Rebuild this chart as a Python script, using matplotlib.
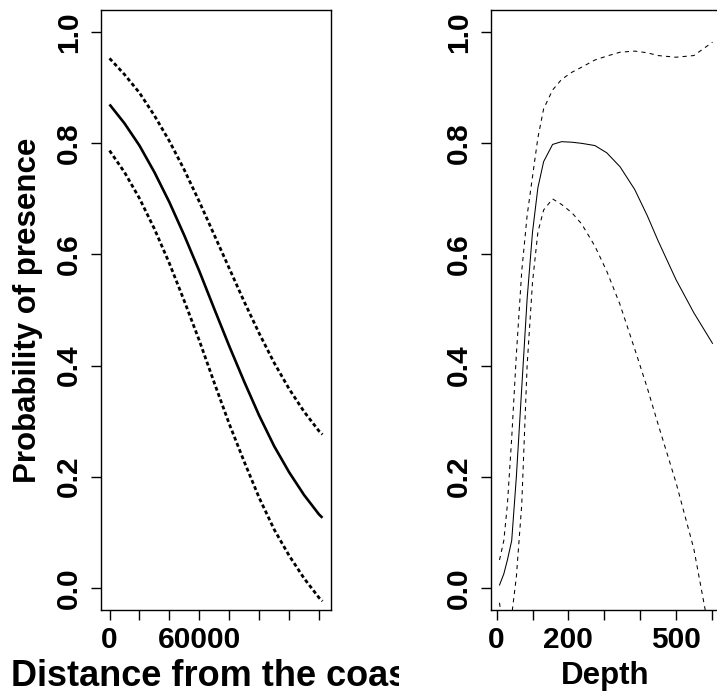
import matplotlib
matplotlib.use("Agg")
import matplotlib.pyplot as plt
from matplotlib.patches import Rectangle

# --- data ---
dist = [0, 10000, 20000, 30000, 40000, 50000, 60000, 70000, 80000, 90000,
        100000, 110000, 120000, 130000, 140000, 142300]
dist_fit = [0.870, 0.836, 0.796, 0.748, 0.694, 0.634, 0.570, 0.502, 0.435,
            0.371, 0.310, 0.255, 0.208, 0.167, 0.132, 0.126]
dist_upper = [0.953, 0.924, 0.891, 0.850, 0.804, 0.752, 0.695, 0.635, 0.575,
              0.515, 0.458, 0.405, 0.358, 0.317, 0.282, 0.276]
dist_lower = [0.787, 0.748, 0.701, 0.646, 0.584, 0.516, 0.445, 0.369, 0.295,
              0.227, 0.162, 0.105, 0.058, 0.017, -0.018, -0.024]

depth = [8, 20, 30, 42, 55, 70, 85, 100, 115, 131, 156, 181, 210, 237, 274,
         307, 344, 385, 420, 450, 500, 550, 602]
depth_fit = [0.005, 0.025, 0.05, 0.085, 0.20, 0.36, 0.52, 0.64, 0.72, 0.767,
             0.798, 0.803, 0.802, 0.800, 0.796, 0.783, 0.758, 0.717, 0.67,
             0.625, 0.555, 0.495, 0.44]
depth_upper = [0.05, 0.085, 0.15, 0.27, 0.42, 0.57, 0.67, 0.74, 0.81, 0.862,
               0.896, 0.915, 0.928, 0.937, 0.95, 0.957, 0.964, 0.966, 0.963,
               0.958, 0.955, 0.958, 0.982]
depth_lower = [-0.027, -0.09, -0.10, -0.05, 0.02, 0.15, 0.40, 0.55, 0.64,
               0.68, 0.70, 0.69, 0.675, 0.655, 0.615, 0.57, 0.51, 0.43, 0.36,
               0.295, 0.19, 0.07, -0.11]

y_ticks = [0.0, 0.2, 0.4, 0.6, 0.8, 1.0]
y_labels = ["0.0", "0.2", "0.4", "0.6", "0.8", "1.0"]
dist_ticks = [0, 20000, 40000, 60000, 80000, 100000, 120000, 140000]
dist_labels = ["0", "", "", "60000", "", "", "", ""]
depth_ticks = [0, 100, 200, 300, 400, 500, 600]
depth_labels = ["0", "", "200", "", "", "500", ""]

W, H = 717, 697
FS = 21.5
FS_LAB = 22.5
plt.rcParams["font.family"] = ["Liberation Sans", "DejaVu Sans"]
plt.rcParams["font.weight"] = "bold"

fig = plt.figure(figsize=(W / 100, H / 100), dpi=100)


def px_axes(x0, x1, y_top, y_bot):
    return fig.add_axes([x0 / W, (H - y_bot) / H, (x1 - x0) / W, (y_bot - y_top) / H])


def style(ax, xticks, xlabels):
    for s in ax.spines.values():
        s.set_linewidth(1.0)
    ax.set_ylim(-0.04, 1.04)
    ax.set_yticks(y_ticks)
    ax.set_yticklabels(y_labels, rotation=90, va="center")
    ax.set_xticks(xticks)
    ax.set_xticklabels(xlabels)
    ax.tick_params(direction="out", length=7.2, width=1.0, labelsize=FS)
    ax.tick_params(axis="x", pad=4)
    ax.tick_params(axis="y", pad=6)


ax1 = px_axes(101, 331, 10, 610)
ax1.plot(dist, dist_fit, color="black", lw=1.9, solid_capstyle="butt")
for band in (dist_upper, dist_lower):
    ax1.plot(dist, band, color="black", lw=2.0, linestyle=(0, (1.4, 1.0)),
             dash_capstyle="butt")
span = dist[-1] - dist[0]
ax1.set_xlim(dist[0] - 0.04 * span, dist[-1] + 0.04 * span)
style(ax1, dist_ticks, dist_labels)
fig.text(28 / W, (H - 310) / H, "Probability of presence", fontsize=FS_LAB,
         fontweight="bold", rotation=90, ha="center", va="center")

ax2 = px_axes(491, 721, 10, 610)
ax2.plot(depth, depth_fit, color="black", lw=0.75)
for band in (depth_upper, depth_lower):
    ax2.plot(depth, band, color="black", lw=0.75, linestyle=(0, (4, 4)))
span = depth[-1] - depth[0]
ax2.set_xlim(depth[0] - 0.04 * span, depth[-1] + 0.04 * span)
style(ax2, depth_ticks, depth_labels)

# x labels; the left one is cut at its figure region as in the R output
fig.text(216 / W, (H - 676) / H, "Distance from the coast", fontsize=26,
         ha="center", va="center", zorder=1)
fig.add_artist(Rectangle((399 / W, 0), 80 / W, 55 / H, transform=fig.transFigure,
                         facecolor="white", edgecolor="none", zorder=5))
fig.text(605 / W, (H - 676) / H, "Depth", fontsize=FS_LAB, ha="center", va="center")

fig.savefig("out.png", dpi=100)
